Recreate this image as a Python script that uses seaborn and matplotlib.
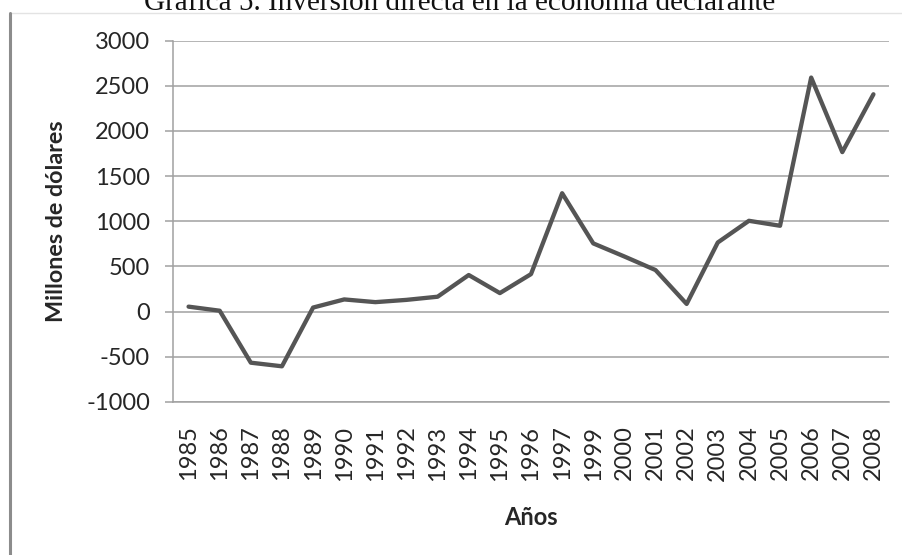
import matplotlib
matplotlib.use("Agg")
import matplotlib.pyplot as plt
import seaborn as sns
import pandas as pd
from matplotlib.lines import Line2D

years = ["1985", "1986", "1987", "1988", "1989", "1990", "1991", "1992", "1993",
         "1994", "1995", "1996", "1997", "1999", "2000", "2001", "2002", "2003",
         "2004", "2005", "2006", "2007", "2008"]
inversion = [55, 10, -565, -605, 45, 135, 105, 130, 165,
             405, 205, 415, 1310, 755, 610, 460, 85, 765,
             1005, 950, 2590, 1765, 2405]
yticks = [-1000, -500, 0, 500, 1000, 1500, 2000, 2500, 3000]

title = "Gráfica 5. Inversión directa en la economía declarante"
xlabel = "Años"
ylabel = "Millones de dólares"

df = pd.DataFrame({"Año": years, "Valor": inversion})

sns.set_style("white")
plt.rcParams["font.family"] = ["Lato", "DejaVu Sans"]

fig = plt.figure(figsize=(9.02, 5.55), dpi=100)
ax = fig.add_axes([173 / 902, 1 - 402 / 555, (889 - 173) / 902, (402 - 40.5) / 555])

sns.lineplot(data=df, x="Año", y="Valor", sort=False, ax=ax,
             color="#555555", linewidth=3.1, zorder=3)

ax.set_ylim(-1000, 3000)
ax.set_xlim(-0.5, len(years) - 0.5)
ax.set_yticks(yticks)
ax.set_yticklabels([str(v) for v in yticks])
ax.yaxis.grid(True, color="#a0a0a0", linewidth=1.1)
ax.xaxis.grid(False)
for s in ["top", "right"]:
    ax.spines[s].set_visible(False)
ax.spines["left"].set_color("#a0a0a0")
ax.spines["bottom"].set_color("#a0a0a0")
ax.spines["left"].set_linewidth(1.1)
ax.spines["bottom"].set_linewidth(1.1)

ax.tick_params(axis="y", which="major", length=6, width=1.1, color="#a0a0a0",
               direction="out", left=True, pad=10.5, labelsize=17, labelcolor="#262626")
ax.tick_params(axis="x", which="major", length=0, pad=17, labelsize=17,
               labelcolor="#262626", rotation=90)

ax.set_xlabel(xlabel, fontsize=17, fontweight="bold", color="#262626", labelpad=18)
ax.set_ylabel(ylabel, fontsize=16.8, fontweight="bold", color="#262626", labelpad=14)

fig.text(460 / 902, 1 - 10.5 / 555, title, ha="center", va="baseline",
         fontsize=21, family=["Liberation Serif", "DejaVu Serif"], color="#111111")

# frame lines of the original page
fig.add_artist(Line2D([10 / 902, 1.0], [1 - 13 / 555, 1 - 13 / 555],
                      color="#e3e3e3", linewidth=1.0, transform=fig.transFigure))
fig.add_artist(Line2D([10 / 902, 10 / 902], [1 - 13 / 555, 0.0],
                      color="#8c8c8c", linewidth=2.2, transform=fig.transFigure))

fig.savefig("out.png", dpi=100)
